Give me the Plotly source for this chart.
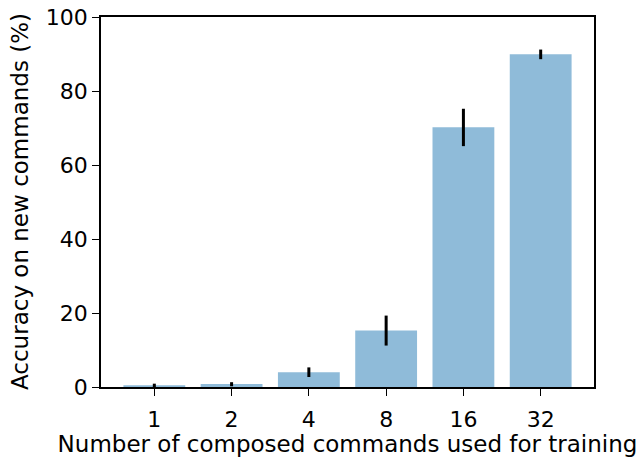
import plotly.graph_objects as go

categories = ["1", "2", "4", "8", "16", "32"]
accuracy = [0.5, 0.8, 4.0, 15.3, 70.2, 89.9]
err_plus = [0.4, 0.5, 1.3, 4.0, 5.0, 1.3]
err_minus = [0.5, 0.6, 1.3, 4.1, 5.1, 1.3]

fig = go.Figure()
fig.add_trace(go.Bar(
    x=list(range(len(categories))),
    y=accuracy,
    width=0.8,
    marker=dict(color="rgba(31,119,180,0.5)", line=dict(width=0)),
    error_y=dict(type="data", symmetric=False, array=err_plus, arrayminus=err_minus,
                 color="black", thickness=3, width=0),
))

tick_font = dict(family="DejaVu Sans", size=22, color="black")
title_font = dict(family="DejaVu Sans", size=23, color="black")
fig.update_layout(
    width=640, height=457,
    margin=dict(l=101, r=46, t=17, b=70),
    paper_bgcolor="white", plot_bgcolor="white",
    font=tick_font,
    showlegend=False,
    xaxis=dict(
        range=[-0.69, 5.69],
        tickmode="array", tickvals=list(range(len(categories))), ticktext=categories,
        ticks="outside", ticklen=7, tickwidth=1.3, tickcolor="black",
        showline=True, linecolor="black", linewidth=1.5, mirror=True,
        showgrid=False, zeroline=False, automargin=False,
        ticklabelstandoff=5,
        title=dict(text="Number of composed commands used for training", font=title_font, standoff=3),
        tickfont=tick_font,
    ),
    yaxis=dict(
        range=[0, 100],
        tickvals=[0, 20, 40, 60, 80, 100],
        ticks="outside", ticklen=7, tickwidth=1.3, tickcolor="black",
        showline=True, linecolor="black", linewidth=1.5, mirror=True,
        showgrid=False, zeroline=False, automargin=False,
        ticklabelstandoff=0,
        tickfont=tick_font,
    ),
    annotations=[dict(
        text="Accuracy on new commands (%)", font=title_font, textangle=-90,
        xref="paper", yref="paper", x=0, y=0.5, xanchor="center", yanchor="middle",
        xshift=-81, showarrow=False,
    )],
)

fig.write_html("out.html", config={"displayModeBar": False},
               post_script="document.body.style.margin='0';")
